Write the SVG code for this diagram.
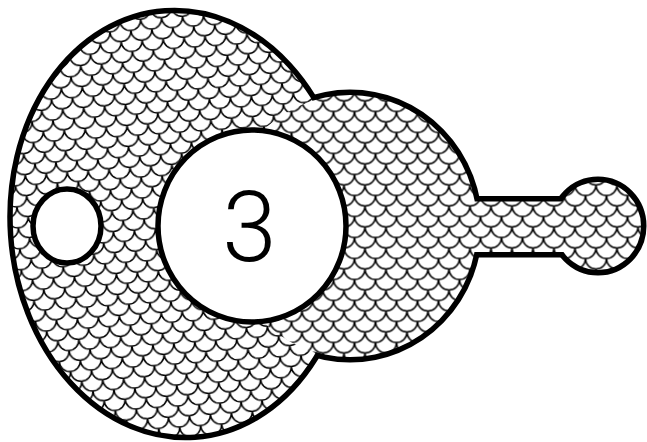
<svg xmlns="http://www.w3.org/2000/svg" width="647" height="442" viewBox="0 0 647 442">
<defs>
<pattern id="scales" patternUnits="userSpaceOnUse" x="18.5" y="6.5" width="21" height="21">
<rect width="21" height="21" fill="#fff"/>
<path d="M-10.5,-10.5 A10.5,10.5 0 0 0 10.5,-10.5 A10.5,10.5 0 0 0 31.5,-10.5 M-21,0 A10.5,10.5 0 0 0 0,0 A10.5,10.5 0 0 0 21,0 A10.5,10.5 0 0 0 42,0 M-10.5,10.5 A10.5,10.5 0 0 0 10.5,10.5 A10.5,10.5 0 0 0 31.5,10.5 M-21,21 A10.5,10.5 0 0 0 0,21 A10.5,10.5 0 0 0 21,21 A10.5,10.5 0 0 0 42,21" fill="none" stroke="#000" stroke-width="1.5"/>
</pattern>
<g id="body-shape">
<ellipse cx="180" cy="224" rx="167" ry="211" transform="rotate(-4 180 224)"/>
<ellipse cx="350" cy="226" rx="127" ry="131"/>
<rect x="440" y="201.5" width="130" height="50.5"/>
<ellipse cx="598" cy="226" rx="43" ry="44"/>
</g>
</defs>
<style>
.outline{fill:#000;stroke:#000;stroke-width:11;stroke-linejoin:round}
.fillpat{fill:url(#scales);stroke:none}
.hole{fill:#fff;stroke:#000;stroke-width:5.5}
.label{font-family:Roboto,"Liberation Sans",Arial,sans-serif;font-weight:300;font-size:98px;fill:#000}
</style>
<rect width="647" height="442" fill="#fff"/>
<g id="body">
<use href="#body-shape" class="outline"/>
<use href="#body-shape" class="fillpat"/>
</g>
<g id="small-hole">
<ellipse class="hole" cx="67" cy="226" rx="34" ry="37"/>
</g>
<g id="big-hole">
<ellipse class="hole" cx="252" cy="226" rx="94" ry="96"/>
<text class="label" x="249.5" y="261" text-anchor="middle">3</text>
</g>
</svg>
